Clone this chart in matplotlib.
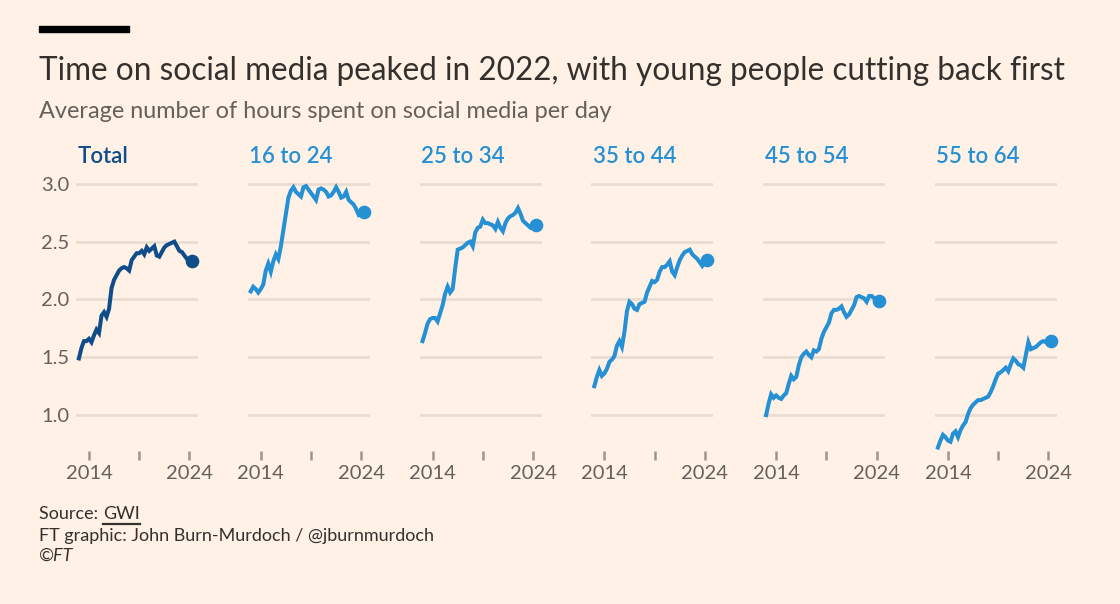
import matplotlib
matplotlib.use('Agg')
import matplotlib.pyplot as plt
from matplotlib.patches import Rectangle
from matplotlib.lines import Line2D
import numpy as np

# ---------------- data ----------------
quarters = np.arange(46) * 0.25 + 2013.0   # Q1 2013 ... Q2 2024

panel_names = ["Total", "16 to 24", "25 to 34", "35 to 44", "45 to 54", "55 to 64"]

total = [1.49, 1.58, 1.64, 1.64, 1.66, 1.63, 1.69, 1.74, 1.71, 1.86, 1.89, 1.85,
         1.92, 2.10, 2.17, 2.21, 2.25, 2.27, 2.28, 2.27, 2.25, 2.34, 2.37, 2.40,
         2.40, 2.42, 2.39, 2.45, 2.42, 2.44, 2.46, 2.38, 2.37, 2.41, 2.45, 2.47,
         2.48, 2.49, 2.50, 2.46, 2.42, 2.41, 2.38, 2.35, 2.33, 2.33]
age_16_24 = [2.07, 2.11, 2.09, 2.06, 2.09, 2.13, 2.25, 2.31, 2.24, 2.33, 2.39, 2.35,
             2.46, 2.60, 2.74, 2.88, 2.94, 2.97, 2.93, 2.91, 2.89, 2.97, 2.98, 2.95,
             2.92, 2.89, 2.86, 2.95, 2.96, 2.95, 2.93, 2.89, 2.90, 2.93, 2.97, 2.93,
             2.88, 2.89, 2.93, 2.86, 2.84, 2.82, 2.78, 2.73, 2.74, 2.76]
age_25_34 = [1.64, 1.71, 1.79, 1.83, 1.84, 1.84, 1.81, 1.88, 1.95, 2.05, 2.11, 2.06,
             2.09, 2.27, 2.43, 2.44, 2.45, 2.47, 2.49, 2.50, 2.46, 2.58, 2.62, 2.63,
             2.69, 2.66, 2.66, 2.65, 2.64, 2.61, 2.67, 2.62, 2.59, 2.66, 2.70, 2.72,
             2.73, 2.75, 2.79, 2.74, 2.68, 2.66, 2.64, 2.62, 2.63, 2.64]
age_35_44 = [1.25, 1.33, 1.39, 1.34, 1.36, 1.40, 1.46, 1.48, 1.51, 1.60, 1.64, 1.59,
             1.72, 1.90, 1.98, 1.96, 1.92, 1.91, 1.96, 1.97, 1.98, 2.06, 2.11, 2.16,
             2.15, 2.17, 2.24, 2.28, 2.28, 2.30, 2.33, 2.24, 2.21, 2.28, 2.34, 2.38,
             2.41, 2.42, 2.43, 2.39, 2.37, 2.35, 2.32, 2.29, 2.32, 2.34]
age_45_54 = [1.00, 1.10, 1.18, 1.15, 1.17, 1.15, 1.14, 1.17, 1.19, 1.27, 1.34, 1.31,
             1.33, 1.43, 1.50, 1.53, 1.55, 1.52, 1.50, 1.56, 1.55, 1.57, 1.66, 1.72,
             1.76, 1.80, 1.88, 1.91, 1.91, 1.92, 1.94, 1.89, 1.85, 1.87, 1.91, 1.95,
             2.02, 2.03, 2.02, 2.01, 1.98, 2.03, 2.03, 2.01, 1.98, 1.99]
age_55_64 = [0.72, 0.78, 0.83, 0.81, 0.78, 0.77, 0.84, 0.86, 0.81, 0.87, 0.91, 0.94,
             1.01, 1.06, 1.09, 1.11, 1.13, 1.13, 1.14, 1.15, 1.16, 1.20, 1.25, 1.31,
             1.36, 1.37, 1.39, 1.41, 1.38, 1.44, 1.49, 1.47, 1.44, 1.43, 1.41, 1.52,
             1.63, 1.57, 1.58, 1.59, 1.61, 1.63, 1.64, 1.63, 1.64, 1.64]

series = [total, age_16_24, age_25_34, age_35_44, age_45_54, age_55_64]

y_ticks = [1.0, 1.5, 2.0, 2.5, 3.0]
y_tick_labels = ["1.0", "1.5", "2.0", "2.5", "3.0"]
x_ticks = [2014, 2019, 2024]
x_tick_labels = ["2014", "", "2024"]

# ---------------- style ----------------
BG = "#FFF1E5"
GRID = "#E9DCD1"
TEXT_DARK = "#33302E"
TEXT_GREY = "#66605C"
TICK = "#9E958E"
DARK_BLUE = "#0F4C8A"
LIGHT_BLUE = "#2590D4"
FONT = ["Lato", "DejaVu Sans"]

plt.rcParams['font.family'] = FONT

W, H = 1120, 604
fig = plt.figure(figsize=(W / 100, H / 100), dpi=100, facecolor=BG)

def fx(px):
    return px / W

def fy(py):
    return 1 - py / H

# top black bar
fig.patches.append(Rectangle((fx(39), fy(31.5)), fx(90), 5.5 / H,
                             transform=fig.transFigure, color="black", zorder=5))

fig.text(fx(39), fy(71), "Time on social media peaked in 2022, with young people cutting back first",
         fontsize=22.7, color=TEXT_DARK, va="center", ha="left")
fig.text(fx(39), fy(111), "Average number of hours spent on social media per day",
         fontsize=16.9, color=TEXT_GREY, va="center", ha="left")

ax_left0 = 76
ax_step = 171.8
ax_w = 122
ax_top = 178
ax_bot = 451

for i, (name, vals) in enumerate(zip(panel_names, series)):
    left = ax_left0 + ax_step * i
    ax = fig.add_axes([fx(left), fy(ax_bot), fx(ax_w), (ax_bot - ax_top) / H])
    ax.set_facecolor(BG)
    for s in ax.spines.values():
        s.set_visible(False)
    ax.set_xlim(2012.71, 2024.85)
    ax.set_ylim(0.69, 3.05)
    ax.set_yticks(y_ticks)
    ax.yaxis.grid(True, color=GRID, linewidth=2.0, zorder=0)
    ax.set_axisbelow(True)
    if i == 0:
        ax.set_yticklabels(y_tick_labels)
    else:
        ax.set_yticklabels([])
    ax.tick_params(axis="y", length=0, pad=5, labelsize=14.5, labelcolor=TEXT_GREY)
    ax.set_xticks(x_ticks)
    ax.set_xticklabels(x_tick_labels)
    ax.tick_params(axis="x", direction="out", length=6.2, width=1.8, color=TICK,
                   pad=4, labelsize=14.5, labelcolor=TEXT_GREY)
    col = DARK_BLUE if i == 0 else LIGHT_BLUE
    ax.plot(quarters, vals, color=col, linewidth=2.9, solid_joinstyle="miter",
            clip_on=False, zorder=3)
    ax.plot([quarters[-1]], [vals[-1]], "o", color=col, markersize=8.8,
            clip_on=False, zorder=4)
    fig.text(fx(left + 1.5), fy(157), name, fontsize=16, color=col,
             fontweight="semibold", va="center", ha="left")

# footer
FS = 13
src = fig.text(fx(39), fy(514), "Source: ", fontsize=FS, color=TEXT_DARK, va="center", ha="left")
fig.canvas.draw()
r = fig.canvas.get_renderer()
bb = src.get_window_extent(renderer=r)
gwi = fig.text(bb.x1 / W, fy(514), "GWI", fontsize=FS, color=TEXT_DARK, va="center", ha="left")
bb2 = gwi.get_window_extent(renderer=r)
fig.lines.append(Line2D([bb2.x0 / W, bb2.x1 / W], [fy(524), fy(524)],
                        transform=fig.transFigure, color=TEXT_DARK, linewidth=1.6))
fig.text(fx(39), fy(535.5), "FT graphic: John Burn-Murdoch / @jburnmurdoch",
         fontsize=FS, color=TEXT_DARK, va="center", ha="left")
fig.text(fx(39), fy(556), "©FT", fontsize=FS, color=TEXT_DARK, va="center", ha="left",
         fontstyle="italic")

fig.savefig("out.png", dpi=100, facecolor=BG)
